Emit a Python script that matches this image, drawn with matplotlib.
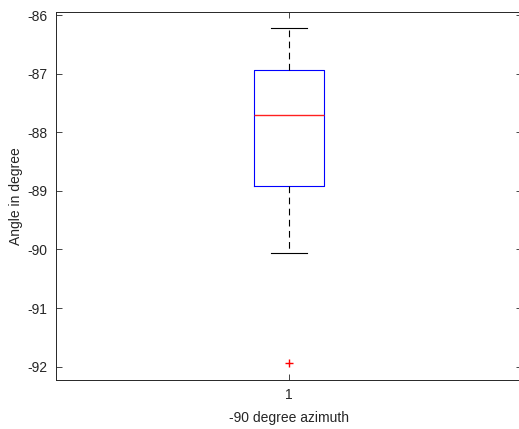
import matplotlib
matplotlib.use("Agg")
import matplotlib.pyplot as plt

# box statistics
labels = ["1"]
whisker_low = [-90.06]
q1 = [-88.92]
median = [-87.70]
q3 = [-86.94]
whisker_high = [-86.22]
outliers = [[-91.94]]

stats = []
for i in range(len(labels)):
    stats.append({
        "label": labels[i],
        "whislo": whisker_low[i],
        "q1": q1[i],
        "med": median[i],
        "q3": q3[i],
        "whishi": whisker_high[i],
        "fliers": outliers[i],
    })

plt.rcParams["font.family"] = ["Liberation Sans", "DejaVu Sans"]
plt.rcParams["axes.unicode_minus"] = False
txt = "#262626"

fig = plt.figure(figsize=(5.19, 4.29), dpi=100)
ax = fig.add_axes([0.107, 0.114, 0.899, 0.859])

ax.bxp(stats, positions=[1], widths=0.15,
       boxprops=dict(color="blue", linewidth=0.8),
       medianprops=dict(color="#ff2020", linewidth=1.0, zorder=5),
       whiskerprops=dict(color="black", linewidth=0.8, linestyle=(0, (6, 4))),
       capprops=dict(color="black", linewidth=0.8),
       flierprops=dict(marker="+", markeredgecolor="red", markersize=6, linestyle="none"),
       capwidths=0.076)

ax.set_xlim(0.5, 1.5)
ax.set_ylim(-92.23, -85.94)
ax.set_yticks([-92, -91, -90, -89, -88, -87, -86])
ax.set_xticks([1])
ax.set_xticklabels(labels)

ax.tick_params(direction="in", top=True, right=True, labelsize=10,
               colors=txt, length=4, width=0.6, pad=6)
for s in ax.spines.values():
    s.set_color(txt)
    s.set_linewidth(0.7)

ax.set_ylabel("Angle in degree", fontsize=10, color=txt, labelpad=3)
ax.set_xlabel("-90 degree azimuth", fontsize=10, color=txt, labelpad=6)

fig.savefig("out.png", dpi=100)
